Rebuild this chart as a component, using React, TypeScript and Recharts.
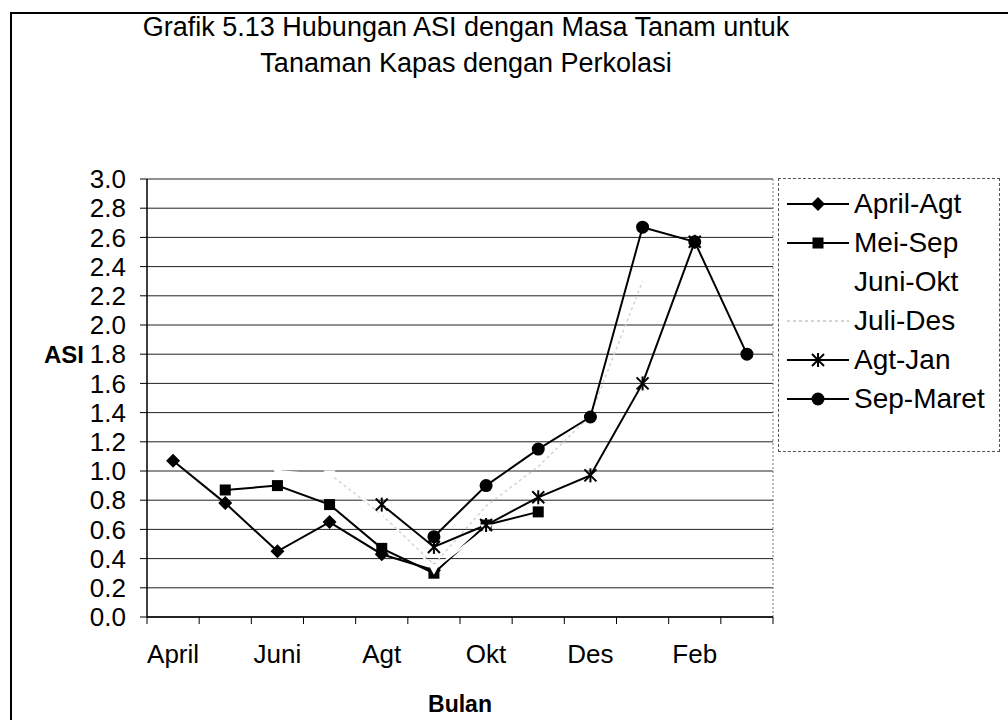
import { LineChart, Line, XAxis, YAxis, CartesianGrid, ReferenceLine } from "recharts";

const months = ["April", "Mei", "Juni", "Juli", "Agt", "Sep", "Okt", "Nov", "Des", "Jan", "Feb", "Mar"];

const aprilAgt = [1.07, 0.78, 0.45, 0.65, 0.43, 0.32, null, null, null, null, null, null];
const meiSep = [null, 0.87, 0.9, 0.77, 0.47, 0.3, 0.63, 0.72, null, null, null, null];
const juniOkt = [null, null, 1.0, 0.97, 0.72, 0.33, 0.6, null, null, null, null, null];
const juliDes = [null, null, null, 0.98, 0.7, 0.36, 0.76, 1.03, 1.38, 2.3, null, null];
const agtJan = [null, null, null, null, 0.77, 0.48, 0.63, 0.82, 0.97, 1.6, 2.57, null];
const sepMaret = [null, null, null, null, null, 0.55, 0.9, 1.15, 1.37, 2.67, 2.57, 1.8];

const yTicks = [0, 0.2, 0.4, 0.6, 0.8, 1.0, 1.2, 1.4, 1.6, 1.8, 2.0, 2.2, 2.4, 2.6, 2.8, 3.0];
const slotTicks = [0, 1, 2, 3, 4, 5, 6, 7, 8, 9, 10, 11, 12];

const data = months.map((m, i) => ({
  month: m,
  pos: i + 0.5,
  aprilAgt: aprilAgt[i],
  meiSep: meiSep[i],
  juniOkt: juniOkt[i],
  juliDes: juliDes[i],
  agtJan: agtJan[i],
  sepMaret: sepMaret[i],
}));

type Shape = "diamond" | "square" | "triangle" | "none" | "star" | "circle";

const series: { key: string; name: string; color: string; shape: Shape; dash?: string }[] = [
  { key: "aprilAgt", name: "April-Agt", color: "#000", shape: "diamond" },
  { key: "meiSep", name: "Mei-Sep", color: "#000", shape: "square" },
  { key: "juniOkt", name: "Juni-Okt", color: "#fff", shape: "triangle" },
  { key: "juliDes", name: "Juli-Des", color: "#d4d4d4", shape: "none", dash: "3 3" },
  { key: "agtJan", name: "Agt-Jan", color: "#000", shape: "star" },
  { key: "sepMaret", name: "Sep-Maret", color: "#000", shape: "circle" },
];

function marker(shape: Shape, cx: number, cy: number, color: string, k?: any) {
  switch (shape) {
    case "diamond":
      return <polygon key={k} points={`${cx},${cy - 7} ${cx + 7},${cy} ${cx},${cy + 7} ${cx - 7},${cy}`} fill={color} />;
    case "square":
      return <rect key={k} x={cx - 5.5} y={cy - 5.5} width={11} height={11} fill={color} />;
    case "triangle":
      return <polygon key={k} points={`${cx},${cy + 6} ${cx + 6},${cy - 5} ${cx - 6},${cy - 5}`} fill={color} />;
    case "star":
      return (
        <g key={k} stroke={color} strokeWidth={2}>
          <line x1={cx - 6} y1={cy - 6} x2={cx + 6} y2={cy + 6} />
          <line x1={cx - 6} y1={cy + 6} x2={cx + 6} y2={cy - 6} />
          <line x1={cx} y1={cy - 7} x2={cx} y2={cy + 7} />
        </g>
      );
    case "circle":
      return <circle key={k} cx={cx} cy={cy} r={6.5} fill={color} />;
    default:
      return <g key={k} />;
  }
}

const makeDot = (shape: Shape, color: string) => (p: any) => {
  if (p.value == null || p.cy == null || isNaN(p.cy)) return <g key={p.index} />;
  return marker(shape, p.cx, p.cy, color, p.index);
};

const font = "'Liberation Sans', Arial, sans-serif";

// month label sits in the middle of its slot, every second month
const MonthTick = (p: any) => {
  const v = p.payload?.value;
  if (v == null || v >= months.length || v % 2 !== 0) return <g />;
  const half = (p.width ?? 626) / months.length / 2;
  return (
    <text x={p.x + half} y={p.y + 30} textAnchor="middle" dominantBaseline="middle" fill="#000" fontSize={26} fontFamily={font}>
      {months[v]}
    </text>
  );
};

function LegendBox() {
  return (
    <div
      style={{
        position: "absolute",
        left: 778,
        top: 178,
        width: 222,
        height: 274,
        border: "1px dashed #555",
        boxSizing: "border-box",
        fontFamily: font,
        fontSize: 28,
      }}
    >
      {series.map((s, i) => (
        <div key={s.key} style={{ position: "absolute", left: 6, top: 10 + i * 39, height: 30, display: "flex", alignItems: "center", whiteSpace: "nowrap" }}>
          <svg width={66} height={30}>
            <line x1={2} y1={15} x2={64} y2={15} stroke={s.color} strokeWidth={2} strokeDasharray={s.dash} />
            {marker(s.shape, 33, 15, s.color)}
          </svg>
          <span style={{ marginLeft: 3 }}>{s.name}</span>
        </div>
      ))}
    </div>
  );
}

export default function App() {
  return (
    <div style={{ position: "fixed", left: 0, top: 0, width: 1008, height: 720, background: "#fff", fontFamily: font }}>
      <div style={{ position: "absolute", left: 10, top: 12, width: 1100, height: 800, borderLeft: "2px solid #000", borderTop: "2px solid #000" }} />
      <div style={{ position: "absolute", left: 0, top: 9, width: 932, textAlign: "center", fontSize: 27, lineHeight: "36px" }}>
        Grafik 5.13 Hubungan ASI dengan Masa Tanam untuk
        <br />
        Tanaman Kapas dengan Perkolasi
      </div>
      <div style={{ position: "absolute", left: 44, top: 341, fontSize: 24, fontWeight: "bold" }}>ASI</div>
      <LineChart width={1008} height={720} data={data} margin={{ top: 179, right: 235, left: 47, bottom: 40 }}>
        <CartesianGrid xAxisId="num" horizontal vertical={false} stroke="#222" />
        <XAxis
          xAxisId="num"
          type="number"
          dataKey="pos"
          domain={[0, 12]}
          ticks={slotTicks}
          interval={0}
          tickSize={7}
          height={63}
          tick={<MonthTick />}
          axisLine={{ stroke: "#000", strokeWidth: 1.5 }}
          tickLine={{ stroke: "#000" }}
          label={{ value: "Bulan", position: "insideBottom", offset: -32, fill: "#000", fontSize: 23, fontWeight: "bold", fontFamily: font }}
        />
        <YAxis
          domain={[0, 3]}
          ticks={yTicks}
          interval={0}
          width={100}
          tickSize={7}
          tickMargin={14}
          tickFormatter={(v: number) => v.toFixed(1)}
          axisLine={{ stroke: "#000", strokeWidth: 1.5 }}
          tickLine={{ stroke: "#000" }}
          tick={{ fill: "#000", fontSize: 26, fontFamily: font }}
        />
        <ReferenceLine xAxisId="num" x={12} stroke="#777" strokeDasharray="2 2" />
        {series.map((s) => (
          <Line
            key={s.key}
            xAxisId="num"
            dataKey={s.key}
            name={s.name}
            stroke={s.color}
            strokeWidth={s.dash ? 1.5 : 2}
            strokeDasharray={s.dash}
            dot={makeDot(s.shape, s.color)}
            activeDot={false}
            isAnimationActive={false}
          />
        ))}
      </LineChart>
      <LegendBox />
    </div>
  );
}
